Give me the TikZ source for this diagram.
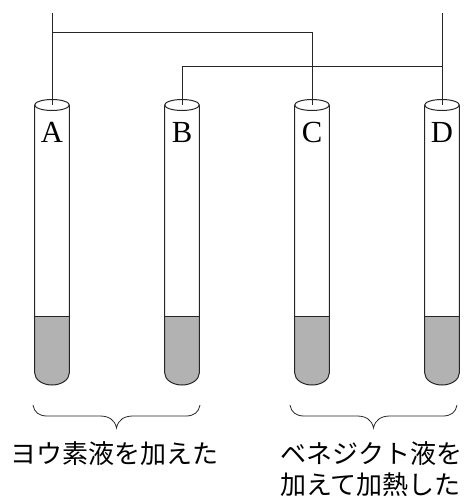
\documentclass[tikz,border=0pt]{standalone}
\usepackage{fontspec}
\newfontfamily\jp{Noto Sans CJK JP}[Scale=1]
\newfontfamily\ltr{Liberation Serif}
\begin{document}
\begin{tikzpicture}[x=0.75pt,y=-0.75pt,
  tube/.style={draw=black!85,line width=0.75pt},
  wire/.style={draw=black!85,line width=0.7pt},
  brc/.style={draw=black!85,line width=0.6pt},
  letter/.style={font=\ltr\fontsize{23}{24}\selectfont,inner sep=0pt},
  caption/.style={font=\jp\fontsize{19.5}{24}\selectfont,inner sep=0pt,align=center}]
\useasboundingbox (0,0) rectangle (466,497);
\foreach \n/\x/\l in {a/52/A,b/182/B,c/312/C,d/442/D}{
  \fill[fill=black!30] (\x-17.3,316) -- (\x-17.3,373) arc[start angle=180,end angle=0,x radius=17.3,y radius=12] -- (\x+17.3,316) -- cycle;
  \draw[tube] (\x-17.3,105) -- (\x-17.3,373) arc[start angle=180,end angle=0,x radius=17.3,y radius=12] -- (\x+17.3,105);
  \draw[tube,fill=white] (\x,105) ellipse[x radius=17.3,y radius=5.5];
  \draw[tube] (\x-17.3,316) -- (\x+17.3,316);
  \coordinate (\n) at (\x,105);
  \node[letter] (l\n) at (\x,132) {\l};
}
\coordinate (topa) at (52,13);
\coordinate (topd) at (442,13);
\coordinate (ja) at (52,32);
\coordinate (jc) at (312,32);
\coordinate (jd) at (442,66);
\coordinate (jb) at (182,66);
\draw[wire] (topa) -- (a);
\draw[wire] (topd) -- (d);
\draw[wire] (ja) -- (jc) -- (c);
\draw[wire] (jd) -- (jb) -- (b);
\foreach \x in {33,290}{
  \draw[brc] (\x,405) .. controls (\x+1,412) and (\x+6,416) .. (\x+14,416)
    -- (\x+67,416) .. controls (\x+76,416) and (\x+82,420) .. (\x+83.5,428)
    .. controls (\x+85,420) and (\x+91,416) .. (\x+100,416)
    -- (\x+153,416) .. controls (\x+161,416) and (\x+166,412) .. (\x+167,405);
}
\node[caption] (t1) at (115,454) {ヨウ素液を加えた};
\node[caption,anchor=west] (t2) at (280,454) {ベネジクト液を};
\node[caption,anchor=west] (t3) at (280,485) {加えて加熱した};
\end{tikzpicture}
\end{document}
